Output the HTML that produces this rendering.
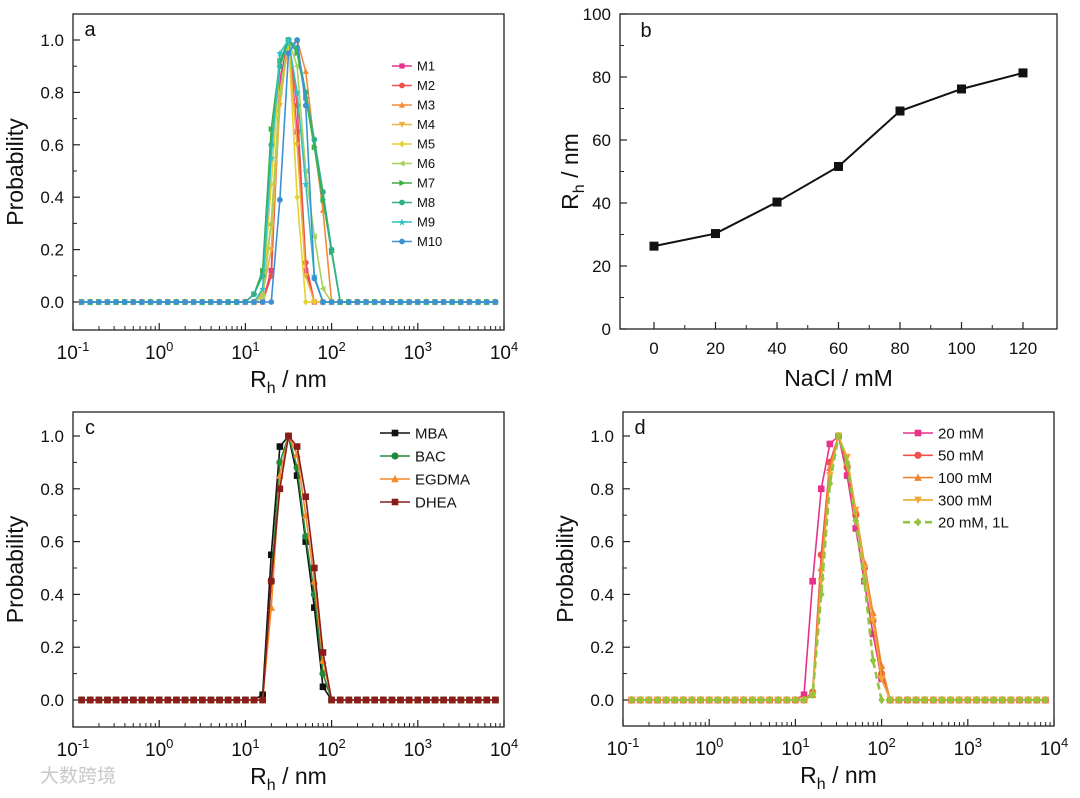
<!DOCTYPE html>
<html><head><meta charset="utf-8"><style>
body{margin:0;background:#fff;}
svg{display:block;font-family:"Liberation Sans",Arial,sans-serif;}
</style></head><body>
<svg id="fig" width="1080" height="798" viewBox="0 0 1080 798" xmlns="http://www.w3.org/2000/svg"></svg>
<script>
// ---------- data ----------
// common log10 grid of size bins: log = -0.9 + 0.1*i, i = 0..48
const gridCount = 49;
const gridStartLog = -0.9;
const gridStepLog = 0.1;

// Panel a: start index + nonzero values
const aNames = ["M1","M2","M3","M4","M5","M6","M7","M8","M9","M10"];
const aStarts = [22,22,21,21,21,21,20,20,21,22];
const aVals = [
 [0.12,0.85,1.0,0.65,0.12,0],
 [0.10,0.80,1.0,0.75,0.15,0],
 [0.04,0.30,0.80,0.97,1.0,0.88,0.60,0.35,0],
 [0.03,0.20,0.75,1.0,0.60,0.10,0],
 [0.02,0.45,0.90,1.0,0.40,0],
 [0.02,0.30,0.80,1.0,0.90,0.50,0.25,0.05,0],
 [0.03,0.12,0.66,0.92,1.0,0.95,0.78,0.59,0.39,0.19,0],
 [0.03,0.10,0.60,0.90,1.0,0.97,0.80,0.62,0.42,0.20,0],
 [0.05,0.55,0.95,1.0,0.80,0.45,0.10,0],
 [0.0,0.39,0.95,1.0,0.75,0.09,0]
];
// Panel b
const bNaCl = [0,20,40,60,80,100,120];
const bRh = [26.3,30.3,40.3,51.6,69.2,76.2,81.3];
const bXTicks = [0,20,40,60,80,100,120];
const bYTicks = [0,20,40,60,80,100];
// Panel c
const cNames = ["MBA","BAC","EGDMA","DHEA"];
const cStarts = [21,21,21,21];
const cVals = [
 [0.02,0.55,0.96,1.0,0.85,0.60,0.35,0.05,0],
 [0.0,0.45,0.90,1.0,0.88,0.62,0.40,0.10,0],
 [0.0,0.35,0.85,1.0,0.93,0.70,0.45,0.15,0],
 [0.0,0.45,0.80,1.0,0.96,0.77,0.50,0.18,0]
];
// Panel d
const dNames = ["20 mM","50 mM","100 mM","300 mM","20 mM, 1L"];
const dStarts = [20,21,21,21,21];
const dVals = [
 [0.02,0.45,0.80,0.97,1.0,0.85,0.65,0.45,0.25,0.08,0],
 [0.03,0.55,0.90,1.0,0.88,0.70,0.50,0.30,0.10,0],
 [0.02,0.50,0.88,1.0,0.90,0.72,0.52,0.33,0.13,0],
 [0.02,0.45,0.85,1.0,0.92,0.72,0.50,0.30,0.08,0],
 [0.02,0.40,0.82,1.0,0.90,0.68,0.45,0.15,0]
];
const probTicks = [0,0.2,0.4,0.6,0.8,1.0];
const logTicks = [-1,0,1,2,3,4];

// ---------- drawing ----------
const NS="http://www.w3.org/2000/svg";
const svg=document.getElementById('fig');
function mk(tag,attrs,parent){const e=document.createElementNS(NS,tag);for(const k in attrs)e.setAttribute(k,attrs[k]);(parent||svg).appendChild(e);return e;}
function txt(x,y,s,size,anchor,parent){const t=mk('text',{x:x,y:y,'font-size':size,'text-anchor':anchor||'middle',fill:'#111'},parent);t.textContent=s;return t;}

function marker(g,shape,x,y,c,s){
  s=s||3;
  let e;
  if(shape==='sq') e=mk('rect',{x:x-s,y:y-s,width:2*s,height:2*s,fill:c},g);
  else if(shape==='ci'||shape==='hex') e=mk('circle',{cx:x,cy:y,r:s+0.3,fill:c},g);
  else if(shape==='tu') e=mk('polygon',{points:`${x},${y-s-0.8} ${x-s-0.5},${y+s} ${x+s+0.5},${y+s}`,fill:c},g);
  else if(shape==='td') e=mk('polygon',{points:`${x},${y+s+0.8} ${x-s-0.5},${y-s} ${x+s+0.5},${y-s}`,fill:c},g);
  else if(shape==='di') e=mk('polygon',{points:`${x},${y-s-1} ${x+s},${y} ${x},${y+s+1} ${x-s},${y}`,fill:c},g);
  else if(shape==='tl') e=mk('polygon',{points:`${x-s-0.8},${y} ${x+s},${y-s-0.5} ${x+s},${y+s+0.5}`,fill:c},g);
  else if(shape==='tr') e=mk('polygon',{points:`${x+s+0.8},${y} ${x-s},${y-s-0.5} ${x-s},${y+s+0.5}`,fill:c},g);
  else if(shape==='st') e=mk('polygon',{points:`${x},${y-s-1} ${x+1},${y-1} ${x+s+1},${y-1} ${x+1.5},${y+1} ${x+s-0.5},${y+s+1} ${x},${y+2} ${x-s+0.5},${y+s+1} ${x-1.5},${y+1} ${x-s-1},${y-1} ${x-1},${y-1}`,fill:c},g);
  
  
}

function logPanel(id,P,names,starts,vals,colors,shapes,legend,dashLast){
  const g=mk('g',{});
  const xs=l=>P.L+(l+1)/5*(P.R-P.L);
  const ys=v=>P.y0+(P.y1-P.y0)*v;
  // axes box
  mk('rect',{x:P.L,y:P.T,width:P.R-P.L,height:P.B-P.T,fill:'none',stroke:'#222','stroke-width':1.3,},g);
  // x ticks
  for(const t of logTicks){
    const x=xs(t);
    mk('line',{x1:x,x2:x,y1:P.B,y2:P.B-7,stroke:'#222','stroke-width':1.2},g);
    const tt=mk('text',{x:x,y:P.B+29,'font-size':19,'text-anchor':'middle',fill:'#111',},g);
    tt.textContent='10';
    const sp=mk('tspan',{dy:-8,'font-size':13},tt);sp.textContent=String(t);
    if(t<4)for(let m=2;m<10;m++){const xm=xs(t+Math.log10(m));mk('line',{x1:xm,x2:xm,y1:P.B,y2:P.B-4,stroke:'#222','stroke-width':1},g);}
  }
  // y ticks
  for(const t of probTicks){
    const y=ys(t);
    mk('line',{x1:P.L,x2:P.L+7,y1:y,y2:y,stroke:'#222','stroke-width':1.2},g);
    const tl=txt(P.L-9,y+6,t.toFixed(1),17,'end',g);
    
    if(t<1){const ym=ys(t+0.1);mk('line',{x1:P.L,x2:P.L+4,y1:ym,y2:ym,stroke:'#222','stroke-width':1},g);}
  }
  const yt=mk('text',{x:0,y:0,'font-size':23,'text-anchor':'middle',fill:'#111',transform:`translate(${P.L-50},${(P.T+P.B)/2}) rotate(-90)`,},g);
  yt.textContent='Probability';
  const xt=mk('text',{x:(P.L+P.R)/2,y:P.B+57,'font-size':23,'text-anchor':'middle',fill:'#111',},g);
  xt.textContent='R';const s1=mk('tspan',{dy:6,'font-size':16},xt);s1.textContent='h';const s2=mk('tspan',{dy:-6},xt);s2.textContent=' / nm';
  const lt=txt(P.L+17,P.T+22,id,20,'middle',g);
  // series
  names.forEach((nm,k)=>{
    const sg=mk('g',{},g);
    const full=[];for(let i=0;i<gridCount;i++)full.push(0);
    vals[k].forEach((v,j)=>{full[starts[k]+j]=v;});
    const pts=full.map((v,i)=>[xs(gridStartLog+gridStepLog*i),ys(v)]);
    const dash=(dashLast&&k===names.length-1)?'7,4':'none';
    mk('polyline',{points:pts.map(p=>p.join(',')).join(' '),fill:'none',stroke:colors[k],'stroke-width':dash!=='none'?2.6:1.6,'stroke-dasharray':dash,},sg);
    pts.forEach(p=>marker(sg,shapes[k],p[0],p[1],colors[k],legend.ms));
    // legend
    const ly=legend.y+k*legend.dy;
    const lg=mk('g',{},g);
    mk('line',{x1:legend.x,x2:legend.x+legend.w,y1:ly,y2:ly,stroke:colors[k],'stroke-width':dash!=='none'?2.6:1.6,'stroke-dasharray':dash},lg);
    marker(lg,shapes[k],legend.x+legend.w/2,ly,colors[k],legend.ms);
    txt(legend.x+legend.w+5,ly+legend.fs*0.36,nm,legend.fs,'start',lg);
  });
}

logPanel('a',{L:73,R:504,T:14,B:330,y0:302,y1:40},aNames,aStarts,aVals,
 ['#e8318a','#f0504a','#f28b3c','#eab040','#e6d22e','#a8d05c','#3cb043','#2fb08a','#2ec2c6','#3a92d2'],
 ['sq','ci','tu','td','di','tl','tr','hex','st','ci'],
 {x:392,y:66,dy:19.5,w:20,fs:13,ms:2.6},false);

logPanel('c',{L:73,R:504,T:412,B:727,y0:700,y1:436},cNames,cStarts,cVals,
 ['#111111','#1f8a3a','#f28a2a','#8a1c1c'],['sq','ci','tu','sq'],
 {x:380,y:433,dy:23,w:30,fs:15,ms:3.3},false);

logPanel('d',{L:623,R:1054,T:412,B:726,y0:700,y1:436},dNames,dStarts,dVals,
 ['#e8318a','#f0524a','#f08432','#f0a832','#94c43e'],['sq','ci','tu','td','di'],
 {x:903,y:433,dy:22.3,w:30,fs:15,ms:3.3},true);

// Panel b
(function(){
  const P={L:620,R:1057,T:14,B:329};
  const g=mk('g',{});
  const xs=v=>654+v*3.075, ys=v=>329-v*3.15;
  mk('rect',{x:P.L,y:P.T,width:P.R-P.L,height:P.B-P.T,fill:'none',stroke:'#222','stroke-width':1.3,},g);
  bXTicks.forEach((t,i)=>{const x=xs(t);mk('line',{x1:x,x2:x,y1:P.B,y2:P.B-7,stroke:'#222','stroke-width':1.2},g);
    if(i<bXTicks.length-1){const xm=xs(t+10);mk('line',{x1:xm,x2:xm,y1:P.B,y2:P.B-4,stroke:'#222'},g);}
    const tl=txt(x,P.B+25,String(t),17,'middle',g);});
  bYTicks.forEach((t,i)=>{const y=ys(t);mk('line',{x1:P.L,x2:P.L+7,y1:y,y2:y,stroke:'#222','stroke-width':1.2},g);
    if(i<bYTicks.length-1){const ym=ys(t+10);mk('line',{x1:P.L,x2:P.L+4,y1:ym,y2:ym,stroke:'#222'},g);}
    const tl=txt(P.L-9,y+6,String(t),17,'end',g);});
  const yt=mk('text',{x:0,y:0,'font-size':23,'text-anchor':'middle',fill:'#111',transform:`translate(${P.L-42},${(P.T+P.B)/2}) rotate(-90)`,},g);
  yt.textContent='R';const s1=mk('tspan',{dy:6,'font-size':16},yt);s1.textContent='h';const s2=mk('tspan',{dy:-6},yt);s2.textContent=' / nm';
  const xt=txt((P.L+P.R)/2,P.B+57,'NaCl / mM',23,'middle',g);
  const lt=txt(P.L+26,P.T+23,'b',20,'middle',g);
  const pts=bNaCl.map((v,i)=>[xs(v),ys(bRh[i])]);
  mk('polyline',{points:pts.map(p=>p.join(',')).join(' '),fill:'none',stroke:'#111','stroke-width':2,},g);
  pts.forEach(p=>marker(g,'sq',p[0],p[1],'#111',4.5));
})();

const wm=mk('text',{x:40,y:782,'font-size':19,fill:'#c8c8c8','font-family':'"Liberation Sans","Noto Sans CJK SC",sans-serif',});
wm.textContent='大数跨境';
</script>
</body></html>
